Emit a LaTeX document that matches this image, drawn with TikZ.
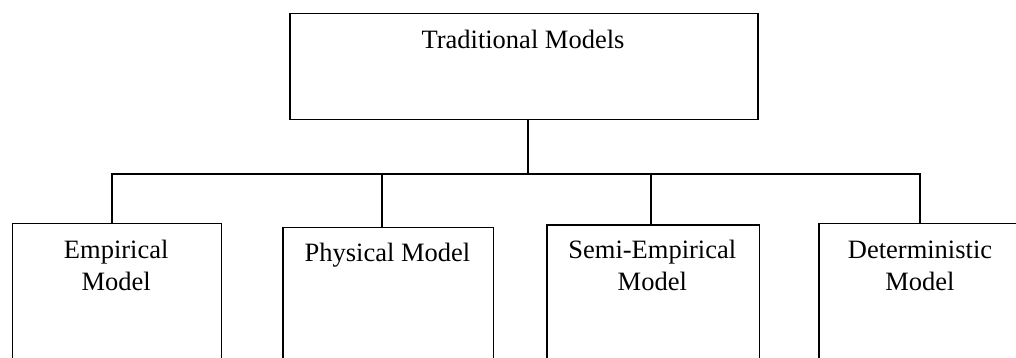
\documentclass[tikz,border=0pt]{standalone}
\usepackage{fontspec}
\setmainfont{Liberation Serif}
\begin{document}
\begin{tikzpicture}[x=1pt,y=-1pt,line width=1.5pt,
  box/.style={draw,anchor=north west,inner sep=0pt,minimum height=160pt},
  lbl/.style={font=\fontsize{26.5}{32}\selectfont,align=center,anchor=base,inner sep=0pt}]
\useasboundingbox (0,0) rectangle (1016,358);
\clip (0,0) rectangle (1016,358);
\node[box,minimum width=468pt,minimum height=106pt] (top) at (289,13) {};
\node[lbl] (ttop) at (523,49) {Traditional Models};
\node[box,minimum width=209pt] (b1) at (11.7,222.7) {};
\node[box,minimum width=210.4pt] (b2) at (282.3,226.7) {};
\node[box,minimum width=212.7pt] (b3) at (546,224.3) {};
\node[box,minimum width=210pt] (b4) at (818.3,222.7) {};
\node[lbl] (l1) at (116.2,290) {Empirical\\Model};
\node[lbl] (l2) at (387.5,261.5) {Physical Model};
\node[lbl] (l3) at (652.3,290) {Semi-Empirical\\Model};
\node[lbl] (l4) at (920,290) {Deterministic\\Model};
\coordinate (j) at (528,174);
\coordinate (hl) at (112,174);
\coordinate (hr) at (920,174);
\coordinate (d2) at (382,174);
\coordinate (d3) at (651,174);
\draw (top.south -| j) -- (j);
\draw (b1.north -| hl) -- (hl) -- (hr) -- (b4.north -| hr);
\draw (d2) -- (b2.north -| d2);
\draw (d3) -- (b3.north -| d3);
\end{tikzpicture}
\end{document}
